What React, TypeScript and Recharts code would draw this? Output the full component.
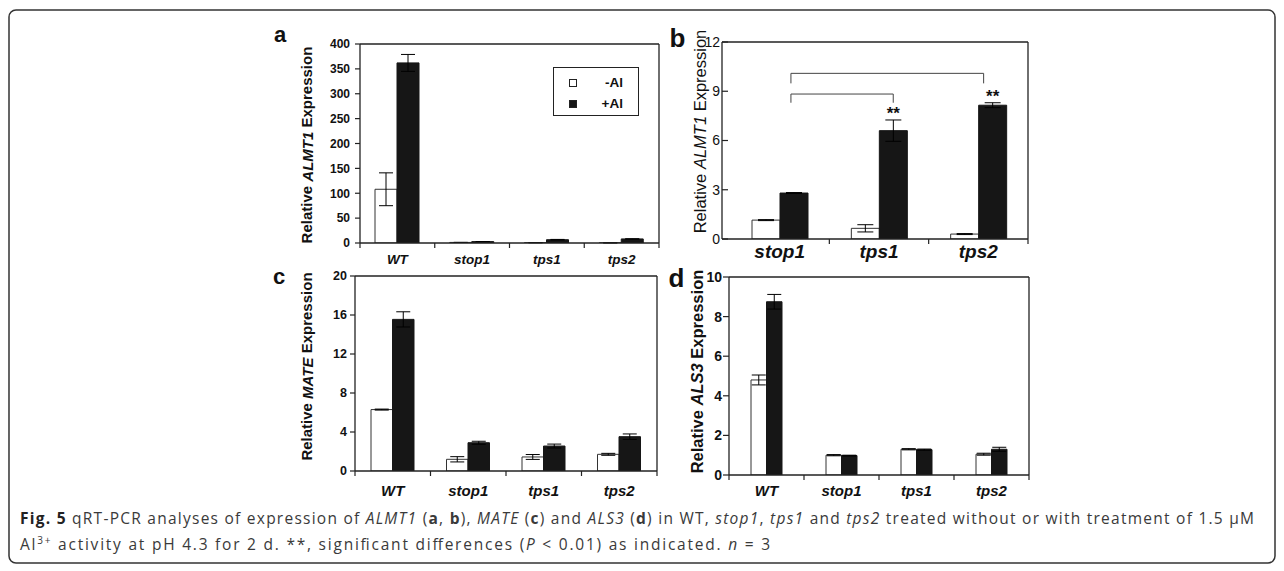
import React from 'react';
import { BarChart, Bar, XAxis, YAxis, ErrorBar, Legend, LabelList } from 'recharts';

const FONT = '"Liberation Sans", Arial, Helvetica, sans-serif';
const CAP_FONT = '"Open Sans", "Noto Sans", sans-serif';
const AXIS = '#222';

// ---------- Panel a : ALMT1 ----------
const catsA = ['WT', 'stop1', 'tps1', 'tps2'];
const minusA = [108, 1.15, 0.65, 0.3];
const minusErrA = [33, 0.05, 0.2, 0.05];
const plusA = [362, 2.8, 6.6, 8.15];
const plusErrA = [17, 0.1, 0.6, 0.15];
const ticksA = [0, 50, 100, 150, 200, 250, 300, 350, 400];

// ---------- Panel b : ALMT1 (mutants) ----------
const catsB = ['stop1', 'tps1', 'tps2'];
const minusB = [1.15, 0.65, 0.3];
const minusErrB = [0.03, 0.22, 0.03];
const plusB = [2.8, 6.6, 8.15];
const plusErrB = [0.03, 0.65, 0.15];
const sigB = ['', '**', '**'];
const ticksB = [0, 3, 6, 9, 12];
// significance brackets (positions in category units from the axis start, values in data units)
const bracketFromB = [0.61, 0.61];
const bracketToB = [2.55, 1.64];
const bracketTopB = [10.09, 8.83];
const bracketFootB = [9.48, 8.3];

// ---------- Panel c : MATE ----------
const catsC = ['WT', 'stop1', 'tps1', 'tps2'];
const minusC = [6.3, 1.2, 1.44, 1.71];
const minusErrC = [0.05, 0.27, 0.25, 0.1];
const plusC = [15.55, 2.9, 2.56, 3.52];
const plusErrC = [0.78, 0.15, 0.2, 0.28];
const ticksC = [0, 4, 8, 12, 16, 20];

// ---------- Panel d : ALS3 ----------
const catsD = ['WT', 'stop1', 'tps1', 'tps2'];
const minusD = [4.8, 1.0, 1.3, 1.05];
const minusErrD = [0.25, 0.03, 0.03, 0.05];
const plusD = [8.75, 0.98, 1.28, 1.3];
const plusErrD = [0.37, 0.02, 0.03, 0.1];
const ticksD = [0, 2, 4, 6, 8, 10];

const legendOrder = ['-Al', '+Al'];

const build = (cats: string[], mi: number[], me: number[], pl: number[], pe: number[], sig?: string[]) =>
  cats.map((c, i) => ({ cat: c, minus: mi[i], minusErr: me[i], plus: pl[i], plusErr: pe[i], sig: sig ? sig[i] : '' }));

const dataA = build(catsA, minusA, minusErrA, plusA, plusErrA);
const dataB = build(catsB, minusB, minusErrB, plusB, plusErrB, sigB);
const dataC = build(catsC, minusC, minusErrC, plusC, plusErrC);
const dataD = build(catsD, minusD, minusErrD, plusD, plusErrD);

const BAND_B = 99.33;

const makeXTick = (band: number, n: number, dy: number, fontSize: number, tickLen: number, skipFirst: boolean) =>
  (props: any) => {
    const { x, y, payload, index } = props;
    const h = band / 2;
    return (
      <g>
        {!(skipFirst && index === 0) && (
          <line x1={x - h} x2={x - h} y1={y} y2={y + tickLen} stroke={AXIS} strokeWidth={1.2} />
        )}
        {index === n - 1 && <line x1={x + h} x2={x + h} y1={y} y2={y + tickLen} stroke={AXIS} strokeWidth={1.2} />}
        <text
          x={x}
          y={y + dy}
          textAnchor="middle"
          dominantBaseline="central"
          fontFamily={FONT}
          fontSize={fontSize}
          fontWeight="bold"
          fontStyle="italic"
          fill="#111"
        >
          {payload.value}
        </text>
      </g>
    );
  };

const getBox = (props: any) =>
  props.viewBox && props.viewBox.height !== undefined ? props.viewBox : props;

// "**" above the error bar of the +Al bar
const renderStars = (props: any) => {
  const { x, y, width, height } = getBox(props);
  const index = props.index;
  const value = props.value;
  if (!value) return null;
  const ppu = height / plusB[index];
  const errTop = y - plusErrB[index] * ppu;
  const cy = errTop - 10;
  return (
    <text x={x + width / 2} y={cy + 9.5} textAnchor="middle" fontFamily={FONT} fontWeight="bold" fontSize={17} fill="#111">
      {value}
    </text>
  );
};

// significance brackets, anchored on the first +Al bar's geometry
const renderBrackets = (props: any) => {
  const { x, y, height } = getBox(props);
  if (props.index !== 0) return null;
  const ppu = height / plusB[0];
  const base = y + height;
  const start = x - BAND_B / 2; // black bar starts at the category centre
  const px = (p: number) => start + p * BAND_B;
  const py = (v: number) => base - v * ppu;
  return (
    <g>
      {bracketFromB.map((f, i) => (
        <path
          key={i}
          d={`M${px(f)},${py(bracketFootB[i])} L${px(f)},${py(bracketTopB[i])} L${px(bracketToB[i])},${py(bracketTopB[i])} L${px(bracketToB[i])},${py(bracketFootB[i])}`}
          fill="none"
          stroke="#444"
          strokeWidth={1}
        />
      ))}
    </g>
  );
};

type PanelCfg = {
  left: number;
  top: number;
  width: number;
  height: number;
  marginTop: number;
  marginRight: number;
  yWidth: number;
  data: any[];
  ticks: number[];
  band: number;
  padLeft: number;
  barSize: number;
  cap: number;
  xFont: number;
  xDy: number;
  tickLen: number;
  skipFirst: boolean;
  yFont: number;
  yWeight: string;
  yTickSize: number;
  yTickMargin: number;
  children?: React.ReactNode;
  stars?: boolean;
};

function Panel(p: PanelCfg) {
  const max = p.ticks[p.ticks.length - 1];
  return (
    <div style={{ position: 'absolute', left: p.left, top: p.top }}>
      <BarChart
        width={p.width}
        height={p.height}
        data={p.data}
        margin={{ top: p.marginTop - 1, right: p.marginRight - 1, bottom: 0, left: 0 }}
        barGap={0}
      >
        <XAxis
          dataKey="cat"
          interval={0}
          height={30}
          tickSize={0}
          tickMargin={0}
          tickLine={false}
          axisLine={{ stroke: AXIS, strokeWidth: 1.3 }}
          padding={{ left: p.padLeft, right: 0 }}
          tick={makeXTick(p.band, p.data.length, p.xDy, p.xFont, 5, p.skipFirst)}
        />
        <XAxis
          xAxisId="top"
          orientation="top"
          dataKey="cat"
          height={1}
          tick={false}
          tickLine={false}
          axisLine={{ stroke: AXIS, strokeWidth: 1.3 }}
        />
        <YAxis
          domain={[0, max]}
          ticks={p.ticks}
          interval={0}
          allowDataOverflow
          width={p.yWidth}
          tickSize={p.yTickSize}
          tickMargin={p.yTickMargin}
          axisLine={{ stroke: AXIS, strokeWidth: 1.3 }}
          tickLine={{ stroke: AXIS, strokeWidth: 1.2 }}
          tick={{ fontSize: p.yFont, fontWeight: p.yWeight, fill: '#111', fontFamily: FONT }}
        />
        <YAxis
          yAxisId="right"
          orientation="right"
          width={1}
          tick={false}
          tickLine={false}
          axisLine={{ stroke: AXIS, strokeWidth: 1.3 }}
        />
        <Bar dataKey="minus" name="-Al" fill="#ffffff" stroke="#333" strokeWidth={1} barSize={p.barSize} isAnimationActive={false}>
          <ErrorBar dataKey="minusErr" width={p.cap} stroke="#000" strokeWidth={1} isAnimationActive={false} />
        </Bar>
        <Bar dataKey="plus" name="+Al" fill="#161616" stroke="#161616" strokeWidth={1} barSize={p.barSize} isAnimationActive={false}>
          <ErrorBar dataKey="plusErr" width={p.cap} stroke="#000" strokeWidth={1} isAnimationActive={false} />
          {p.stars && <LabelList dataKey="sig" content={renderStars} />}
          {p.stars && <LabelList dataKey="cat" content={renderBrackets} />}
        </Bar>
        {p.children}
      </BarChart>
    </div>
  );
}

const legendContent = (props: any) => {
  const payload = [...(props.payload || [])].sort(
    (a: any, b: any) => legendOrder.indexOf(a.value) - legendOrder.indexOf(b.value)
  );
  return (
    <div
      style={{
        width: 86,
        height: 49,
        boxSizing: 'border-box',
        border: '1.3px solid #222',
        position: 'relative',
        background: '#fff',
        fontFamily: FONT,
        fontWeight: 'bold',
        fontSize: 13.5,
        color: '#111',
      }}
    >
      {payload.map((e: any, i: number) => (
        <div key={i}>
          <div
            style={{
              position: 'absolute',
              left: 15,
              top: 11 + i * 21,
              width: 8,
              height: 8,
              boxSizing: 'border-box',
              border: '1px solid #222',
              background: e.value === '-Al' ? '#fff' : '#161616',
            }}
          />
          <div style={{ position: 'absolute', right: 15, top: 7 + i * 21, lineHeight: '16px' }}>{e.value}</div>
        </div>
      ))}
    </div>
  );
};

function Title({ cx, cy, size, weight, gene }: { cx: number; cy: number; size: number; weight: string; gene: string }) {
  return (
    <text
      x={cx}
      y={cy}
      transform={`rotate(-90, ${cx}, ${cy})`}
      textAnchor="middle"
      dominantBaseline="central"
      fontFamily={FONT}
      fontSize={size}
      fontWeight={weight}
      fill="#111"
    >
      Relative <tspan fontStyle="italic">{gene}</tspan> Expression
    </text>
  );
}

function Letter({ x, y, size, t }: { x: number; y: number; size: number; t: string }) {
  return (
    <text x={x} y={y} textAnchor="middle" fontFamily={FONT} fontSize={size} fontWeight="bold" fill="#111">
      {t}
    </text>
  );
}

export default function App() {
  return (
    <div style={{ position: 'absolute', left: 0, top: 0, width: 1284, height: 571, background: '#fff' }}>
      <Panel
        left={262} top={20} width={402} height={253} marginTop={24} marginRight={5} yWidth={98}
        data={dataA} ticks={ticksA} band={74.75} padLeft={0} barSize={22} cap={7}
        xFont={13.5} xDy={16} skipFirst={false} tickLen={4}
        yFont={12} yWeight="bold" yTickSize={5} yTickMargin={5}
      >
        <Legend
          layout="horizontal"
          verticalAlign="middle"
          align="center"
          wrapperStyle={{ left: 553 - 262, top: 67 - 20, width: 86, height: 49 }}
          content={legendContent}
        />
      </Panel>

      <Panel
        left={640} top={20} width={394} height={249} marginTop={22} marginRight={6} yWidth={82}
        data={dataB} ticks={ticksB} band={BAND_B} padLeft={8} barSize={28} cap={8}
        xFont={19} xDy={12} skipFirst={true} tickLen={5}
        yFont={14} yWeight="normal" yTickSize={-6} yTickMargin={8} stars
      />

      <Panel
        left={262} top={262} width={400} height={239} marginTop={14} marginRight={5} yWidth={93}
        data={dataC} ticks={ticksC} band={75.5} padLeft={0} barSize={21.5} cap={7}
        xFont={15} xDy={19} skipFirst={false} tickLen={5}
        yFont={12.5} yWeight="bold" yTickSize={5} yTickMargin={3}
      />

      <Panel
        left={640} top={262} width={394} height={243} marginTop={15} marginRight={5} yWidth={89}
        data={dataD} ticks={ticksD} band={75} padLeft={0} barSize={15.5} cap={7}
        xFont={15} xDy={15} skipFirst={false} tickLen={5}
        yFont={14} yWeight="bold" yTickSize={6} yTickMargin={1}
      />

      <svg
        width={1284}
        height={571}
        style={{ position: 'absolute', left: 0, top: 0, pointerEvents: 'none' }}
      >
        <rect x={9} y={10} width={1266} height={553} rx={7} ry={7} fill="none" stroke="#333" strokeWidth={1.5} />

        <Letter x={280} y={42} size={22} t="a" />
        <Letter x={677.5} y={47} size={26} t="b" />
        <Letter x={279} y={284} size={22} t="c" />
        <Letter x={676.5} y={287} size={26} t="d" />

        <Title cx={306.5} cy={145} size={15} weight="bold" gene="ALMT1" />
        <Title cx={700} cy={131.5} size={16.5} weight="normal" gene="ALMT1" />
        <Title cx={306.5} cy={366.5} size={15} weight="bold" gene="MATE" />
        <Title cx={696.5} cy={371.5} size={16.5} weight="bold" gene="ALS3" />

        <text x={20} y={524} fontFamily={CAP_FONT} fontSize={15.5} fill="#3a3a3a" textLength={1234} lengthAdjust="spacing">
          <tspan fontWeight="bold" fill="#222">Fig. 5</tspan>
          <tspan> qRT-PCR analyses of expression of </tspan>
          <tspan fontStyle="italic">ALMT1</tspan>
          <tspan> (</tspan>
          <tspan fontWeight="bold">a</tspan>
          <tspan>, </tspan>
          <tspan fontWeight="bold">b</tspan>
          <tspan>), </tspan>
          <tspan fontStyle="italic">MATE</tspan>
          <tspan> (</tspan>
          <tspan fontWeight="bold">c</tspan>
          <tspan>) and </tspan>
          <tspan fontStyle="italic">ALS3</tspan>
          <tspan> (</tspan>
          <tspan fontWeight="bold">d</tspan>
          <tspan>) in WT, </tspan>
          <tspan fontStyle="italic">stop1</tspan>
          <tspan>, </tspan>
          <tspan fontStyle="italic">tps1</tspan>
          <tspan> and </tspan>
          <tspan fontStyle="italic">tps2</tspan>
          <tspan> treated without or with treatment of 1.5 μM</tspan>
        </text>
        <text x={20} y={550} fontFamily={CAP_FONT} fontSize={15.5} fill="#3a3a3a" textLength={750} lengthAdjust="spacing">
          <tspan>Al</tspan>
          <tspan fontSize={10} dy={-6}>3+</tspan>
          <tspan dy={6}> activity at pH 4.3 for 2 d. **, significant differences (</tspan>
          <tspan fontStyle="italic">P</tspan>
          <tspan> &lt; 0.01) as indicated. </tspan>
          <tspan fontStyle="italic">n</tspan>
          <tspan> = 3</tspan>
        </text>
      </svg>
    </div>
  );
}
